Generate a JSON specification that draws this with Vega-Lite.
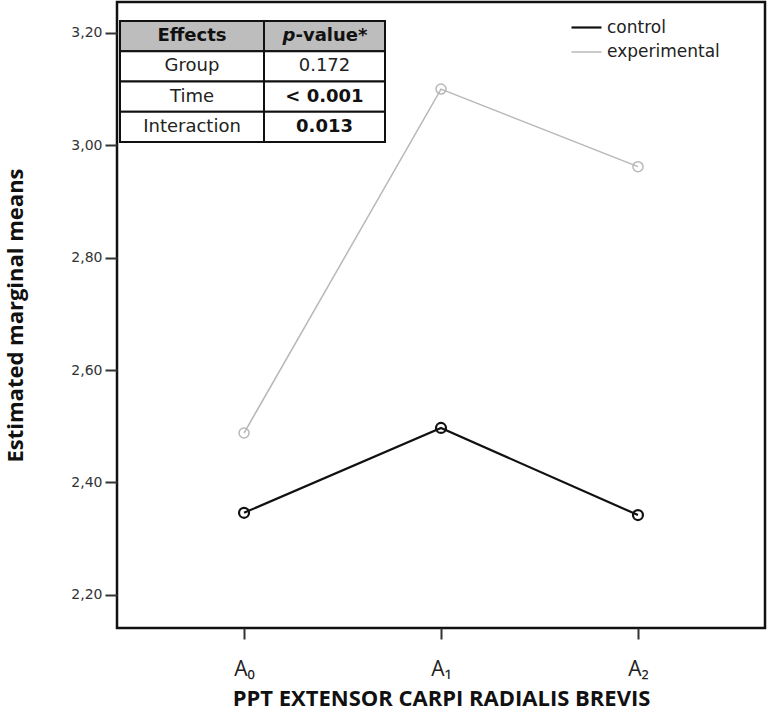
{
  "$schema": "https://vega.github.io/schema/vega-lite/v6.json",
  "autosize": "none",
  "padding": {"left": 117, "top": 2, "right": 5, "bottom": 85},
  "width": 648,
  "height": 626,
  "background": "white",
  "config": {
    "view": {"stroke": "#111", "strokeWidth": 2.5},
    "axis": {"grid": false, "domain": false}
  },
  "datasets": {
    "means": [
      {"group": "control", "time": "A₀", "mean": 2.346},
      {"group": "control", "time": "A₁", "mean": 2.497},
      {"group": "control", "time": "A₂", "mean": 2.342},
      {"group": "experimental", "time": "A₀", "mean": 2.488},
      {"group": "experimental", "time": "A₁", "mean": 3.100},
      {"group": "experimental", "time": "A₂", "mean": 2.962}
    ],
    "table": [
      {"row": "h", "col": "Effects", "label": "Effects"},
      {"row": "h", "col": "p", "label": "p-value*"},
      {"row": "Group", "col": "Effects", "label": "Group"},
      {"row": "Group", "col": "p", "label": "0.172"},
      {"row": "Time", "col": "Effects", "label": "Time"},
      {"row": "Time", "col": "p", "label": "< 0.001"},
      {"row": "Interaction", "col": "Effects", "label": "Interaction"},
      {"row": "Interaction", "col": "p", "label": "0.013"}
    ]
  },
  "resolve": {"scale": {"x": "independent", "y": "independent"}},
  "layer": [
    {
      "data": {"name": "means"},
      "encoding": {
        "x": {
          "field": "time", "type": "ordinal",
          "scale": {"type": "point", "domain": ["A₀", "A₁", "A₂"], "padding": 0.645},
          "axis": {
            "labelAngle": 0, "labelFont": "Open Sans", "labelFontSize": 21, "labelColor": "#222",
            "labelPadding": 19, "tickSize": 11, "tickWidth": 2, "tickColor": "#333",
            "title": "PPT EXTENSOR CARPI RADIALIS BREVIS", "titleFont": "Open Sans",
            "titleFontWeight": "bold", "titleFontSize": 22, "titleColor": "#111",
            "titleY": 77, "titleBaseline": "alphabetic"
          }
        },
        "y": {
          "field": "mean", "type": "quantitative",
          "scale": {"domain": [2.141, 3.255], "nice": false, "zero": false},
          "axis": {
            "values": [2.2, 2.4, 2.6, 2.8, 3.0, 3.2],
            "labelExpr": "replace(format(datum.value, '.2f'), '.', ',')",
            "labelFont": "DejaVu Sans", "labelFontSize": 14, "labelColor": "#333",
            "labelPadding": 3, "tickSize": 12, "tickWidth": 2, "tickColor": "#333",
            "title": "Estimated marginal means", "titleFont": "Open Sans",
            "titleFontWeight": "bold", "titleFontSize": 22, "titleColor": "#111",
            "titleX": -95, "titleY": 313, "titleBaseline": "alphabetic"
          }
        },
        "color": {
          "field": "group", "type": "nominal",
          "scale": {"domain": ["control", "experimental"], "range": ["#111111", "#b8b8b8"]},
          "legend": {
            "title": null, "orient": "none", "legendX": 453, "legendY": 9,
            "symbolType": "stroke", "symbolSize": 900, "symbolStrokeWidth": 2,
            "labelFont": "DejaVu Sans", "labelFontSize": 17, "labelColor": "#222",
            "labelOffset": 4, "rowPadding": -4, "padding": 0
          }
        },
        "strokeWidth": {
          "field": "group", "type": "nominal",
          "scale": {"domain": ["control", "experimental"], "range": [2.2, 1.5]},
          "legend": null
        }
      },
      "layer": [
        {"mark": {"type": "line"}},
        {"mark": {"type": "point", "filled": false, "size": 100, "opacity": 1}}
      ]
    },
    {
      "data": {"name": "table"},
      "transform": [{"filter": "datum.col === 'Effects'"}],
      "encoding": {
        "x": {"field": "col", "type": "nominal",
          "scale": {"type": "band", "domain": ["Effects"], "range": [3, 147], "paddingInner": 0, "paddingOuter": 0},
          "axis": null},
        "y": {"field": "row", "type": "nominal",
          "scale": {"type": "band", "domain": ["h", "Group", "Time", "Interaction"], "range": [19, 140], "paddingInner": 0, "paddingOuter": 0},
          "axis": null}
      },
      "layer": [
        {"mark": {"type": "rect", "stroke": "#111", "strokeWidth": 2},
         "encoding": {"fill": {"condition": {"test": "datum.row === 'h'", "value": "#bdbdbd"}, "value": "white"}}},
        {"transform": [{"filter": "datum.row !== 'h'"}],
         "mark": {"type": "text", "font": "DejaVu Sans", "fontSize": 18, "color": "#222", "baseline": "middle"},
         "encoding": {"text": {"field": "label"}}},
        {"transform": [{"filter": "datum.row === 'h'"}],
         "mark": {"type": "text", "font": "DejaVu Sans", "fontSize": 18, "fontWeight": "bold", "color": "#111", "baseline": "middle"},
         "encoding": {"text": {"field": "label"}}}
      ]
    },
    {
      "data": {"name": "table"},
      "transform": [{"filter": "datum.col === 'p'"}],
      "encoding": {
        "x": {"field": "col", "type": "nominal",
          "scale": {"type": "band", "domain": ["p"], "range": [147, 268], "paddingInner": 0, "paddingOuter": 0},
          "axis": null},
        "y": {"field": "row", "type": "nominal",
          "scale": {"type": "band", "domain": ["h", "Group", "Time", "Interaction"], "range": [19, 140], "paddingInner": 0, "paddingOuter": 0},
          "axis": null}
      },
      "layer": [
        {"mark": {"type": "rect", "stroke": "#111", "strokeWidth": 2},
         "encoding": {"fill": {"condition": {"test": "datum.row === 'h'", "value": "#bdbdbd"}, "value": "white"}}},
        {"transform": [{"filter": "datum.row === 'Group'"}],
         "mark": {"type": "text", "font": "DejaVu Sans", "fontSize": 18, "color": "#222", "baseline": "middle"},
         "encoding": {"text": {"field": "label"}}},
        {"transform": [{"filter": "datum.row === 'Time' || datum.row === 'Interaction'"}],
         "mark": {"type": "text", "font": "DejaVu Sans", "fontSize": 18, "fontWeight": "bold", "color": "#111", "baseline": "middle"},
         "encoding": {"text": {"field": "label"}}},
        {"transform": [{"filter": "datum.row === 'h'"}],
         "mark": {"type": "text", "font": "DejaVu Sans", "fontSize": 18, "fontWeight": "bold", "fontStyle": "italic", "color": "#111", "baseline": "middle", "align": "left", "dx": -42},
         "encoding": {"text": {"value": "p"}}},
        {"transform": [{"filter": "datum.row === 'h'"}],
         "mark": {"type": "text", "font": "DejaVu Sans", "fontSize": 18, "fontWeight": "bold", "color": "#111", "baseline": "middle", "align": "left", "dx": -29},
         "encoding": {"text": {"value": "-value*"}}}
      ]
    }
  ]
}
